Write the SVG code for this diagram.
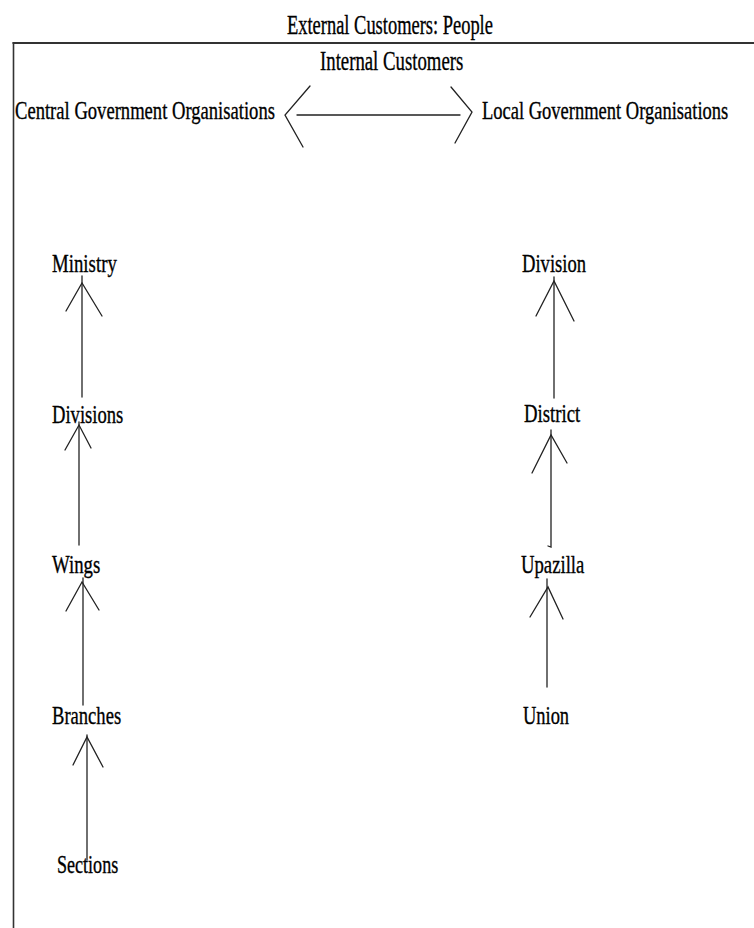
<svg xmlns="http://www.w3.org/2000/svg" width="754" height="928" viewBox="0 0 754 928">
<style>
  text { font-family: "Liberation Serif", "Times New Roman", serif; fill: #000; stroke: #000; stroke-width: 0.35; }
  .t { font-size: 26px; }
  .h { font-size: 28px; }
  .frame { stroke: #333; fill: none; }
  .c { stroke: #222; stroke-width: 1.3; fill: none; stroke-linecap: round; }
</style>
<rect width="754" height="928" fill="#fff"/>
<g id="frame">
  <line class="frame" x1="12.5" y1="43" x2="754" y2="43" stroke-width="2.2"/>
  <line class="frame" x1="13.5" y1="42" x2="13.5" y2="928" stroke-width="1.6"/>
</g>
<g id="external" transform="translate(287,34) scale(0.72,1)"><text class="h" x="0" y="0" textLength="286" lengthAdjust="spacingAndGlyphs">External Customers: People</text></g>
<g id="internal" transform="translate(320,70) scale(0.72,1)"><text class="h" x="0" y="0" textLength="199" lengthAdjust="spacingAndGlyphs">Internal Customers</text></g>
<g id="central" transform="translate(15,119) scale(0.72,1)"><text class="t" x="0" y="0" textLength="361" lengthAdjust="spacingAndGlyphs">Central Government Organisations</text></g>
<g id="local" transform="translate(482,119) scale(0.72,1)"><text class="t" x="0" y="0" textLength="342" lengthAdjust="spacingAndGlyphs">Local Government Organisations</text></g>
<g id="ministry" transform="translate(52,272) scale(0.72,1)"><text class="t" x="0" y="0" textLength="90" lengthAdjust="spacingAndGlyphs">Ministry</text></g>
<g id="divisions" transform="translate(52,423) scale(0.72,1)"><text class="t" x="0" y="0" textLength="99" lengthAdjust="spacingAndGlyphs">Divisions</text></g>
<g id="wings" transform="translate(52,573) scale(0.72,1)"><text class="t" x="0" y="0" textLength="67" lengthAdjust="spacingAndGlyphs">Wings</text></g>
<g id="branches" transform="translate(52,724) scale(0.72,1)"><text class="t" x="0" y="0" textLength="96" lengthAdjust="spacingAndGlyphs">Branches</text></g>
<g id="sections" transform="translate(57,873) scale(0.72,1)"><text class="t" x="0" y="0" textLength="85" lengthAdjust="spacingAndGlyphs">Sections</text></g>
<g id="division" transform="translate(522,272) scale(0.72,1)"><text class="t" x="0" y="0" textLength="89" lengthAdjust="spacingAndGlyphs">Division</text></g>
<g id="district" transform="translate(524,422) scale(0.72,1)"><text class="t" x="0" y="0" textLength="78" lengthAdjust="spacingAndGlyphs">District</text></g>
<g id="upazilla" transform="translate(521,573) scale(0.72,1)"><text class="t" x="0" y="0" textLength="88" lengthAdjust="spacingAndGlyphs">Upazilla</text></g>
<g id="union" transform="translate(523,724) scale(0.72,1)"><text class="t" x="0" y="0" textLength="64" lengthAdjust="spacingAndGlyphs">Union</text></g>
<g id="connectors">
  <line class="c" x1="297" y1="115" x2="460" y2="115" stroke-width="2"/>
  <path class="c" d="M310 86 L285 115 L303 147"/>
  <path class="c" d="M451 87 L472 112 L455 143"/>
  <line class="c" x1="82" y1="397" x2="82" y2="276"/>
  <path class="c" d="M66 311 L82 283 L102 316"/>
  <line class="c" x1="79" y1="545" x2="79" y2="422"/>
  <path class="c" d="M65 450 L79 425 L91 448"/>
  <line class="c" x1="83" y1="705" x2="83" y2="578"/>
  <path class="c" d="M66 611 L82 582 L99 610"/>
  <line class="c" x1="87" y1="860" x2="87" y2="735"/>
  <path class="c" d="M73 765 L87 737 L103 767"/>
  <line class="c" x1="554" y1="398" x2="554" y2="277"/>
  <path class="c" d="M536 316 L554 281 L574 321"/>
  <path class="c" d="M551 430 L551 547 L548 546"/>
  <path class="c" d="M532 473 L551 435 L567 463"/>
  <line class="c" x1="547" y1="687" x2="547" y2="579"/>
  <path class="c" d="M530 617 L548 587 L563 619"/>
</g>
</svg>
